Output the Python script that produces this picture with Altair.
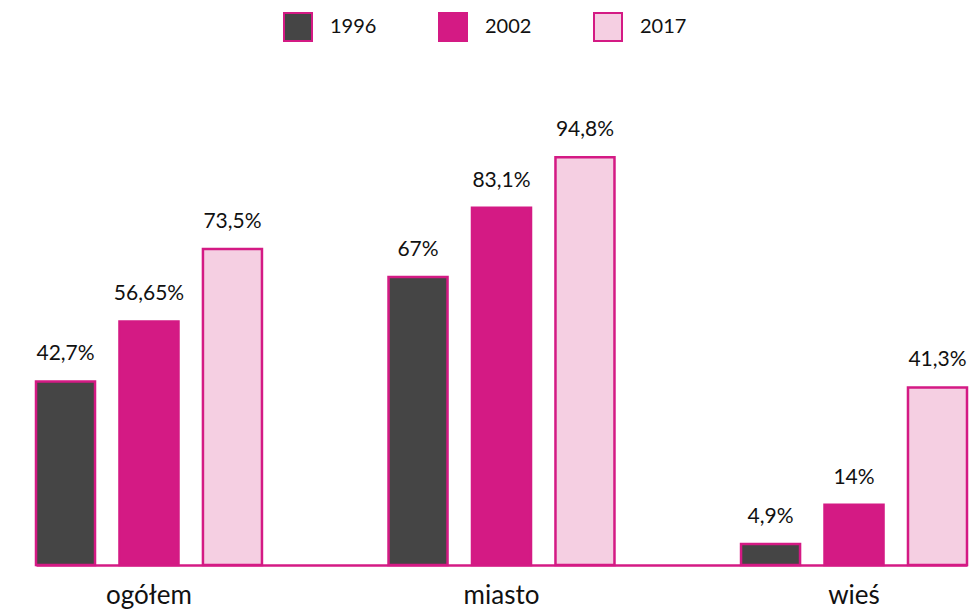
import altair as alt
import pandas as pd

groups = ["ogółem", "miasto", "wieś"]
years = ["1996", "2002", "2017"]
v1996 = [42.7, 67.0, 4.9]
v2002 = [56.65, 83.1, 14.0]
v2017 = [73.5, 94.8, 41.3]
labels1996 = ["42,7%", "67%", "4,9%"]
labels2002 = ["56,65%", "83,1%", "14%"]
labels2017 = ["73,5%", "94,8%", "41,3%"]

rows = []
for vals, labs, yr in [(v1996, labels1996, "1996"), (v2002, labels2002, "2002"), (v2017, labels2017, "2017")]:
    for g, v, l in zip(groups, vals, labs):
        rows.append({"group": g, "year": yr, "value": v, "label": l})
df = pd.DataFrame(rows)

MAG = "#d41a84"
FONT = "Lato"

x = alt.X("group:N", sort=groups, title=None,
          scale=alt.Scale(range=[26, 957], paddingInner=0.359, paddingOuter=0),
          axis=alt.Axis(labelAngle=0, labelFontSize=26, labelFont=FONT, labelColor="#111",
                        labelPadding=17, ticks=False, domainColor=MAG, domainWidth=2.5))
xo = alt.XOffset("year:N", sort=years, scale=alt.Scale(paddingInner=0.293, paddingOuter=0))
y = alt.Y("value:Q", scale=alt.Scale(domain=[0, 100]), axis=None)

bars = alt.Chart(df).mark_bar(stroke=MAG, strokeWidth=2.5).encode(
    x=x, xOffset=xo, y=y,
    color=alt.Color("year:N", sort=years,
                    scale=alt.Scale(domain=years, range=["#454545", MAG, "#f5cfe2"]),
                    legend=alt.Legend(title=None, orient="none", direction="horizontal",
                                      legendX=273, legendY=-123, symbolType="square",
                                      symbolSize=784, symbolStrokeColor=MAG, symbolStrokeWidth=2,
                                      labelFontSize=20, labelFont=FONT, labelColor="#111",
                                      labelOffset=17, columnPadding=58)),
)

text = alt.Chart(df).mark_text(baseline="bottom", dy=-17, fontSize=21, font=FONT, color="#111").encode(
    x=x, xOffset=xo, y=y, text="label:N"
)

chart = (bars + text).properties(
    width=960, height=430,
    autosize=alt.AutoSizeParams(type="none"),
    padding={"left": 2, "top": 127, "right": 0, "bottom": 45},
).configure_view(stroke=None)

chart.save("out.html", embed_options={"renderer": "svg", "actions": False})
